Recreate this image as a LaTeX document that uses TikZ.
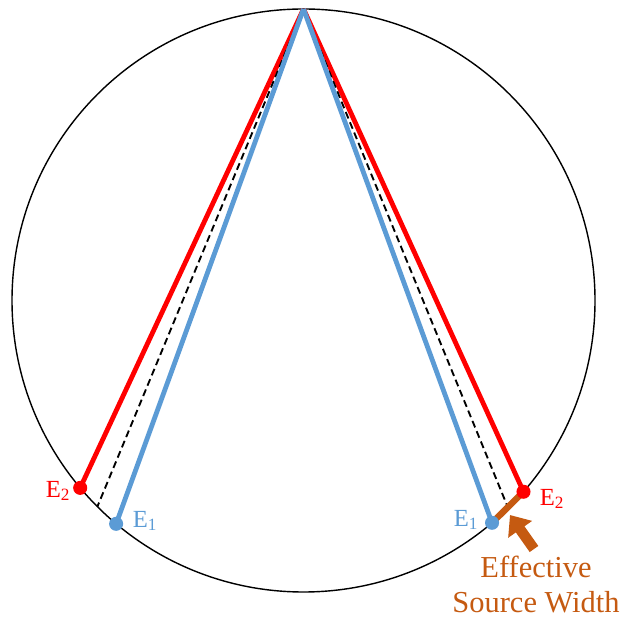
\documentclass[tikz,border=0pt]{standalone}
\usepackage{fontspec}
\setmainfont{Liberation Serif}
\usetikzlibrary{arrows.meta,calc}
\definecolor{bluel}{RGB}{91,155,213}
\definecolor{redl}{RGB}{255,0,0}
\definecolor{brownl}{RGB}{197,90,17}
\begin{document}
\begin{tikzpicture}[x=0.03cm,y=0.03cm,
  ray/.style={line width=4.1pt},
  midray/.style={line width=1.6pt,dash pattern=on 6pt off 3.5pt},
  dot/.style={circle,inner sep=0pt,minimum size=12pt},
  lab/.style={font=\fontsize{21}{24}\selectfont,inner sep=0pt},
  big/.style={text=brownl,inner sep=0pt,anchor=base,font=\fontsize{26}{30}\selectfont}]
\useasboundingbox (0,0) rectangle (626,621);
\coordinate (C) at (303.5,320.5);
\draw[line width=1.2pt] (C) circle (291.5);
\coordinate (A) at ($(C)+(90:291.5)$);
\coordinate (pL2) at ($(C)+(220:291.5)$);
\coordinate (pL1) at ($(C)+(230:291.5)$);
\coordinate (pLm) at ($(C)+(225:291.5)$);
\coordinate (pR1) at ($(C)+(310.3:291.5)$);
\coordinate (pR2) at ($(C)+(319:291.5)$);
\coordinate (pRm) at ($(C)+(314.6:291.5)$);
% rays
\draw[ray,redl] (A) -- (pL2);
\draw[ray,redl] (A) -- (pR2);
\draw[midray] (A) -- (pLm);
\draw[midray] (A) -- (pRm);
\draw[ray,bluel] (A) -- (pL1);
\draw[ray,bluel] (A) -- (pR1);
% effective source width
\draw[brownl,line width=5.5pt] (pR1) -- (pR2);
% dots
\node[dot,fill=redl] (L2) at (pL2) {};
\node[dot,fill=bluel] (L1) at (pL1) {};
\node[dot,fill=bluel] (R1) at (pR1) {};
\node[dot,fill=redl] (R2) at (pR2) {};
% labels
\node[lab,text=redl] (tL2) at (58,130) {E\textsubscript{2}};
\node[lab,text=bluel] (tL1) at (145,100) {E\textsubscript{1}};
\node[lab,text=bluel] (tR1) at (466,101) {E\textsubscript{1}};
\node[lab,text=redl] (tR2) at (552,122) {E\textsubscript{2}};
% arrow and text
\node[big] (eff1) at (536,44) {Effective};
\node[big] (eff2) at (536,9) {Source Width};
\coordinate (ab) at (534,72);
\coordinate (at) at (510,106);
\draw[brownl,line width=9pt,-{Triangle[width=24pt,length=15pt]}] (ab) -- (at);
\end{tikzpicture}
\end{document}
